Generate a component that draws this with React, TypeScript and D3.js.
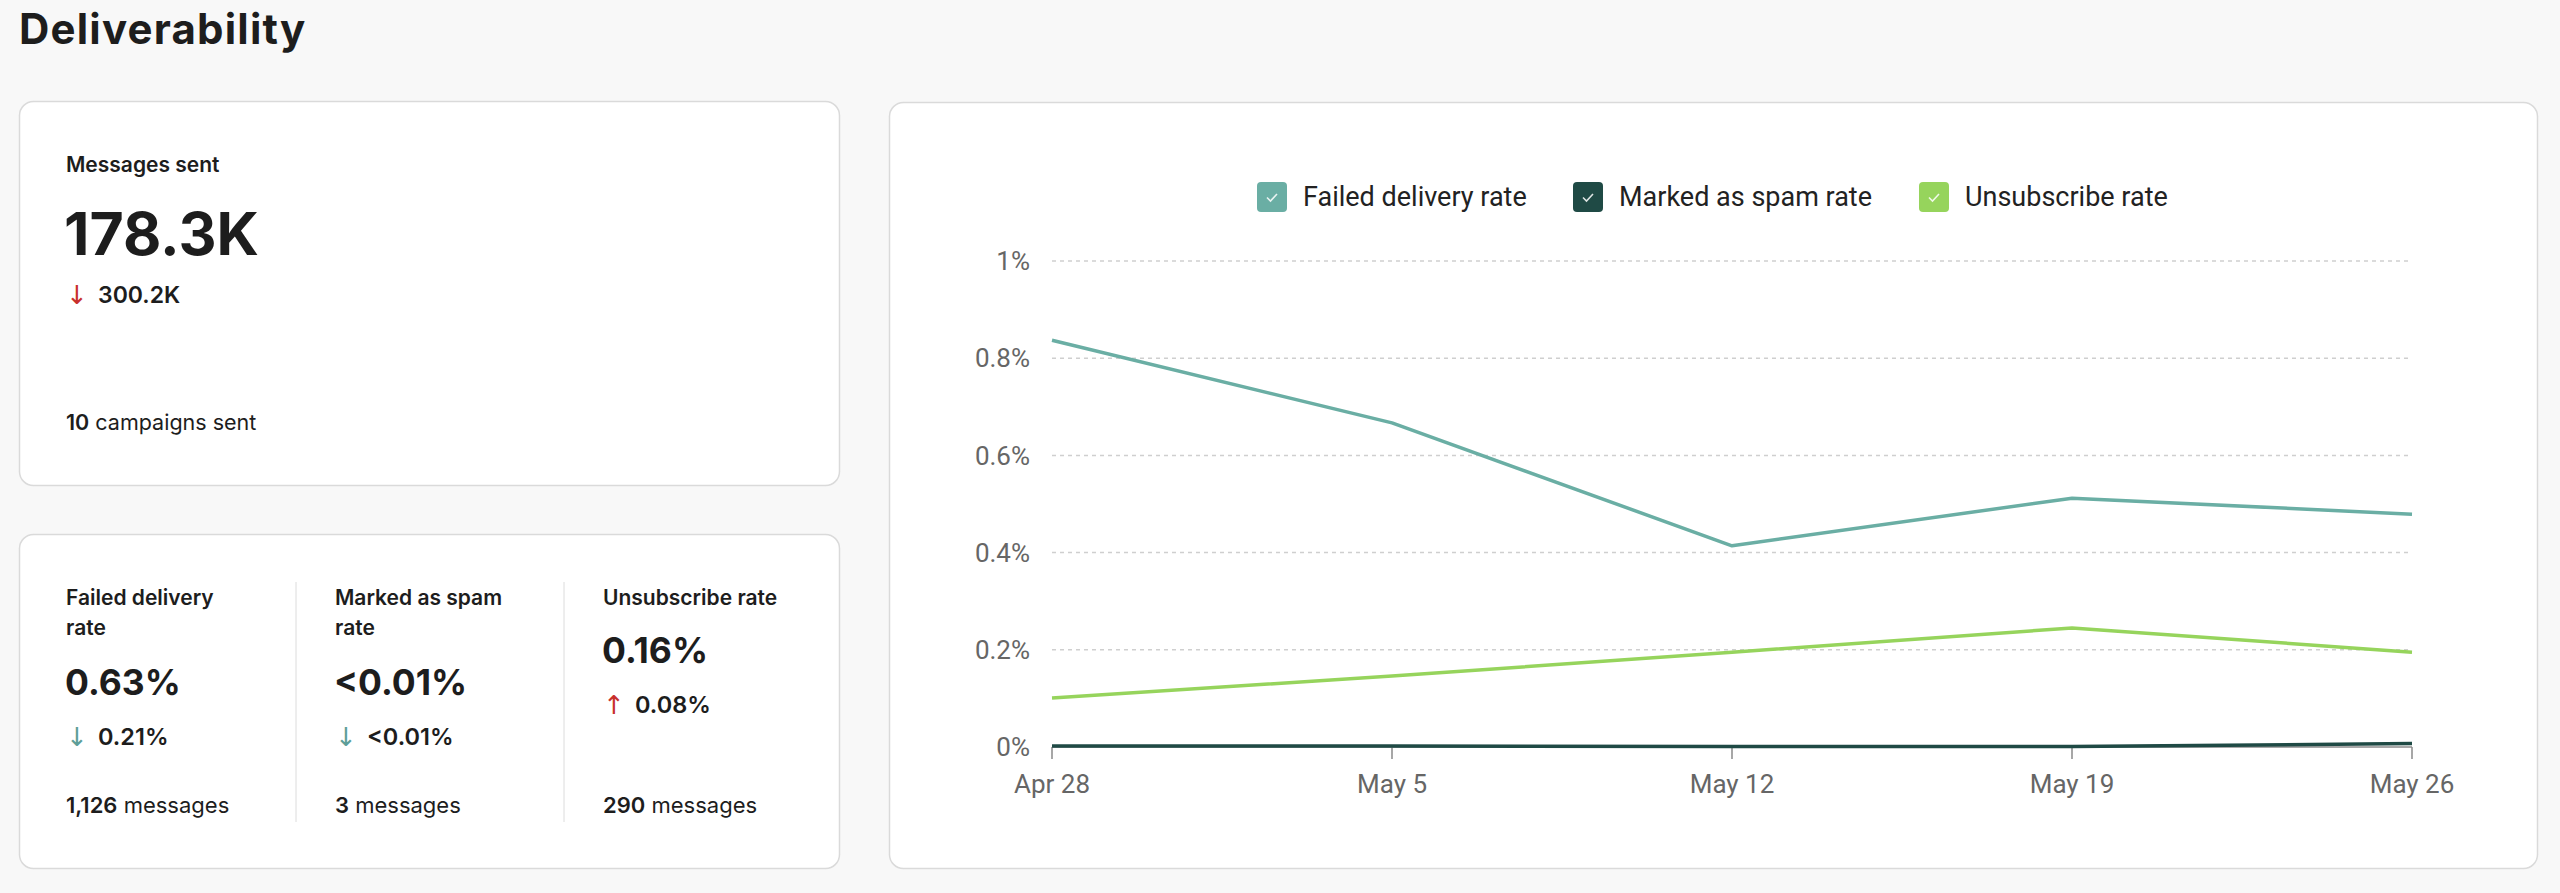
import React from "react";
import * as d3 from "d3";

// weekly buckets on the x axis
const weeks = ["2024-04-28", "2024-05-05", "2024-05-12", "2024-05-19", "2024-05-26"];
const weekLabels = ["Apr 28", "May 5", "May 12", "May 19", "May 26"];

// rates in percent
const failedDelivery = [0.837, 0.667, 0.414, 0.512, 0.479];
const markedSpam = [0.002, 0.002, 0.001, 0.001, 0.007];
const unsubscribe = [0.101, 0.146, 0.195, 0.245, 0.195];

const yTicks = [0, 0.2, 0.4, 0.6, 0.8, 1];

const SERIES = [
  { key: "failed", label: "Failed delivery rate", color: "#6aaea4", values: failedDelivery },
  { key: "spam", label: "Marked as spam rate", color: "#1f4a45", values: markedSpam },
  { key: "unsub", label: "Unsubscribe rate", color: "#96d45c", values: unsubscribe },
];

const summaryStats = [
  { title: ["Failed delivery", "rate"], value: "0.63%", delta: "0.21%", up: false, count: "1,126", unit: "messages" },
  { title: ["Marked as spam", "rate"], value: "<0.01%", delta: "<0.01%", up: false, count: "3", unit: "messages" },
  { title: ["Unsubscribe rate"], value: "0.16%", delta: "0.08%", up: true, count: "290", unit: "messages" },
];

const UI_FONT = "Inter, 'Noto Sans', sans-serif";
const CHART_FONT = "Roboto, 'Noto Sans', sans-serif";
const ARROW_FONT = "'DejaVu Sans', sans-serif";
const RED = "#c8302c";
const TEAL_ARROW = "#5e9e98";

function Card({ x, y, w, h }: { x: number; y: number; w: number; h: number }) {
  return (
    <rect x={x + 0.5} y={y + 0.5} width={w} height={h} rx={14} fill="#ffffff" stroke="#dadada" strokeWidth={1.5} />
  );
}

function LegendItem({ x, label, color }: { x: number; label: string; color: string }) {
  return (
    <g transform={`translate(${x},182)`}>
      <rect width={30} height={30} rx={4} fill={color} />
      <path d="M10,15.5 L13.5,19 L20,12" fill="none" stroke="rgba(255,255,255,0.85)" strokeWidth={1.6} />
      <text x={46} y={24} fontSize={27} fill="#222" fontFamily={CHART_FONT}>
        {label}
      </text>
    </g>
  );
}

export default function App() {
  const dates = weeks.map((d) => new Date(d + "T00:00:00"));
  const x = d3.scaleTime().domain([dates[0], dates[dates.length - 1]]).range([1052, 2412]);
  const y = d3.scaleLinear().domain([0, 1]).range([747, 261]);

  const line = d3
    .line<number>()
    .x((_, i) => x(dates[i]))
    .y((v) => y(v));

  const fmt = (v: number) => `${+v.toFixed(1)}%`;
  const legendX = [1257, 1573, 1919];
  const colX = [66, 335, 603];

  React.useEffect(() => {
    document.body.style.margin = "0";
  }, []);

  return (
    <div style={{ width: 2560, height: 893, background: "#f8f8f8", overflow: "hidden" }}>
      <svg width={2560} height={893} style={{ display: "block" }}>
        <text x={19} y={44} fontSize={42} fontWeight={700} fill="#1d1d1d" fontFamily={UI_FONT} letterSpacing={1.2}>
          Deliverability
        </text>

        {/* messages sent card */}
        <Card x={19} y={101} w={820} h={384} />
        <g fontFamily={UI_FONT} fill="#1d1d1d">
          <text x={66} y={172} fontSize={21} fontWeight={600}>Messages sent</text>
          <text x={64} y={255} fontSize={59} fontWeight={700}>178.3K</text>
          <text x={66} y={304} fontSize={26} fill={RED} fontFamily={ARROW_FONT}>↓</text>
          <text x={98} y={303} fontSize={23} fontWeight={600}>300.2K</text>
          <text x={66} y={430} fontSize={21.5}>
            <tspan fontWeight={600}>10</tspan> campaigns sent
          </text>
        </g>

        {/* rate summary card */}
        <Card x={19} y={534} w={820} h={334} />
        <line x1={296} x2={296} y1={582} y2={822} stroke="#dcdcdc" />
        <line x1={564} x2={564} y1={582} y2={822} stroke="#dcdcdc" />
        <g fontFamily={UI_FONT} fill="#1d1d1d">
          {summaryStats.map((s, i) => {
            const top = s.title.length === 1 ? -32 : 0;
            return (
              <g key={i} transform={`translate(${colX[i]},0)`}>
                {s.title.map((t, j) => (
                  <text key={j} y={605 + j * 30} fontSize={21} fontWeight={600}>{t}</text>
                ))}
                <text x={-1} y={695 + top} fontSize={35.5} fontWeight={700}>{s.value}</text>
                <text x={0} y={746 + top} fontSize={26} fill={s.up ? RED : TEAL_ARROW} fontFamily={ARROW_FONT}>
                  {s.up ? "↑" : "↓"}
                </text>
                <text x={32} y={745 + top} fontSize={23.5} fontWeight={600}>{s.delta}</text>
                <text y={813} fontSize={22}>
                  <tspan fontWeight={600}>{s.count}</tspan> {s.unit}
                </text>
              </g>
            );
          })}
        </g>

        {/* chart card */}
        <Card x={889} y={102} w={1648} h={766} />
        {SERIES.map((s, i) => (
          <LegendItem key={s.key} x={legendX[i]} label={s.label} color={s.color} />
        ))}

        <g fontFamily={CHART_FONT}>
          {yTicks.map((t) => (
            <g key={t}>
              {t > 0 && (
                <line x1={x.range()[0]} x2={x.range()[1]} y1={y(t)} y2={y(t)} stroke="#cfcfcf" strokeWidth={1.5} strokeDasharray="4,4" />
              )}
              <text x={1030} y={y(t)} dy="0.35em" textAnchor="end" fontSize={26} fill="#666">
                {fmt(t)}
              </text>
            </g>
          ))}

          <line x1={x.range()[0]} x2={x.range()[1]} y1={y(0)} y2={y(0)} stroke="#8a8a8a" strokeWidth={1.5} />
          {dates.map((d, i) => (
            <g key={i} transform={`translate(${x(d)},0)`}>
              <line y1={y(0)} y2={y(0) + 12} stroke="#8a8a8a" strokeWidth={1.5} />
              <text y={793} textAnchor="middle" fontSize={26} fill="#666">
                {weekLabels[i]}
              </text>
            </g>
          ))}

          {SERIES.map((s) => (
            <path key={s.key} d={line(s.values) ?? ""} fill="none" stroke={s.color} strokeWidth={3.5} strokeLinejoin="round" />
          ))}
        </g>
      </svg>
    </div>
  );
}
